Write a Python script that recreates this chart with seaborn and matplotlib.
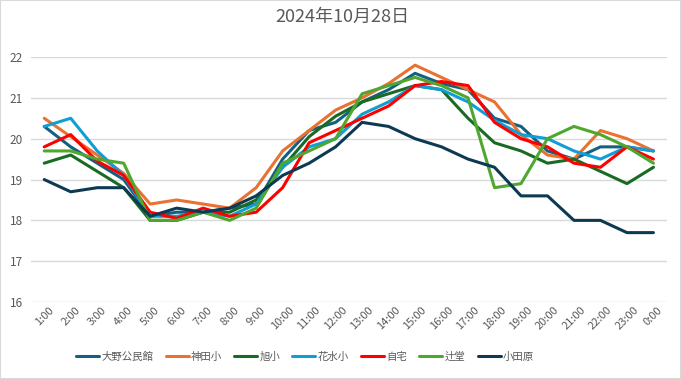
import matplotlib
matplotlib.use("Agg")
import matplotlib.pyplot as plt
import seaborn as sns
import pandas as pd

hours = [f"{h}:00" for h in range(1, 24)] + ["0:00"]

oono = [20.3, 19.8, 19.4, 19.0, 18.1, 18.2, 18.2, 18.3, 18.4, 19.5, 20.2, 20.4, 20.9, 21.2, 21.6, 21.35, 21.2, 20.5, 20.3, 19.7, 19.5, 19.8, 19.8, 19.7]
kanda = [20.5, 20.05, 19.6, 19.15, 18.4, 18.5, 18.4, 18.3, 18.8, 19.7, 20.2, 20.7, 21.0, 21.35, 21.8, 21.5, 21.2, 20.9, 20.1, 19.6, 19.5, 20.2, 20.0, 19.7]
asahi = [19.4, 19.6, 19.2, 18.8, 18.0, 18.0, 18.2, 18.2, 18.5, 19.3, 20.05, 20.55, 20.9, 21.1, 21.3, 21.2, 20.5, 19.9, 19.7, 19.4, 19.5, 19.2, 18.9, 19.3]
hanamizu = [20.3, 20.5, 19.7, 19.1, 18.1, 18.1, 18.2, 18.1, 18.4, 19.3, 19.8, 20.0, 20.6, 20.9, 21.3, 21.2, 20.9, 20.45, 20.1, 20.0, 19.7, 19.5, 19.8, 19.7]
jitaku = [19.8, 20.1, 19.45, 19.1, 18.2, 18.05, 18.3, 18.1, 18.2, 18.8, 19.9, 20.2, 20.5, 20.8, 21.3, 21.4, 21.3, 20.4, 20.0, 19.8, 19.4, 19.3, 19.8, 19.5]
tsujido = [19.7, 19.7, 19.5, 19.4, 18.0, 18.0, 18.2, 18.0, 18.3, 19.4, 19.7, 20.0, 21.1, 21.3, 21.5, 21.3, 21.0, 18.8, 18.9, 20.0, 20.3, 20.1, 19.8, 19.4]
odawara = [19.0, 18.7, 18.8, 18.8, 18.1, 18.3, 18.2, 18.3, 18.6, 19.1, 19.4, 19.8, 20.4, 20.3, 20.0, 19.8, 19.5, 19.3, 18.6, 18.6, 18.0, 18.0, 17.7, 17.7]

series_names = ["大野公民館", "神田小", "旭小", "花水小", "自宅", "辻堂", "小田原"]
series_values = [oono, kanda, asahi, hanamizu, jitaku, tsujido, odawara]
colors = ["#156082", "#E97132", "#196B24", "#0F9ED5", "#FF0000", "#4EA72E", "#0D3A52"]

rows = []
for name, vals in zip(series_names, series_values):
    for i, (h, v) in enumerate(zip(hours, vals)):
        rows.append({"idx": i, "time": h, "temp": v, "site": name})
df = pd.DataFrame(rows)

sns.set_theme(style="white")
plt.rcParams["font.family"] = ["Noto Sans CJK JP", "DejaVu Sans"]

fig = plt.figure(figsize=(6.81, 3.79), dpi=100)
ax = fig.add_axes([0.0455, 0.203, 0.9335, 0.6466])

sns.lineplot(data=df, x="idx", y="temp", hue="site", hue_order=series_names,
             palette=colors, linewidth=2.2, sort=False, ax=ax, legend=True)

ax.set_xlim(-0.5, len(hours) - 0.5)
ax.set_ylim(16, 22)
ax.set_yticks(range(16, 23))
ax.set_xticks(range(len(hours)))
ax.set_xticklabels(hours, rotation=45, ha="center", fontsize=8, color="#595959")
ax.tick_params(axis="y", labelsize=8.5, colors="#595959", length=0, pad=6)
ax.tick_params(axis="x", length=0, pad=2)
ax.set_xlabel("")
ax.set_ylabel("")
ax.grid(axis="y", color="#D9D9D9", linewidth=1)
ax.set_axisbelow(True)
for s in ax.spines.values():
    s.set_visible(False)

fig.text(0.503, 0.955, "2024年10月28日", fontsize=13, color="#595959",
         ha="center", va="center")

handles, labels = ax.get_legend_handles_labels()
ax.legend(handles, labels, loc="center", bbox_to_anchor=(0.431, -0.224), ncol=7,
          frameon=False, fontsize=7.5, handlelength=2.2, handletextpad=0.2,
          columnspacing=1.2, labelcolor="#595959")

fig.patches.append(plt.Rectangle((0, 0), 1, 1, transform=fig.transFigure,
                                 fill=False, edgecolor="#D9D9D9", linewidth=1.5))

fig.savefig("out.png", dpi=100)
